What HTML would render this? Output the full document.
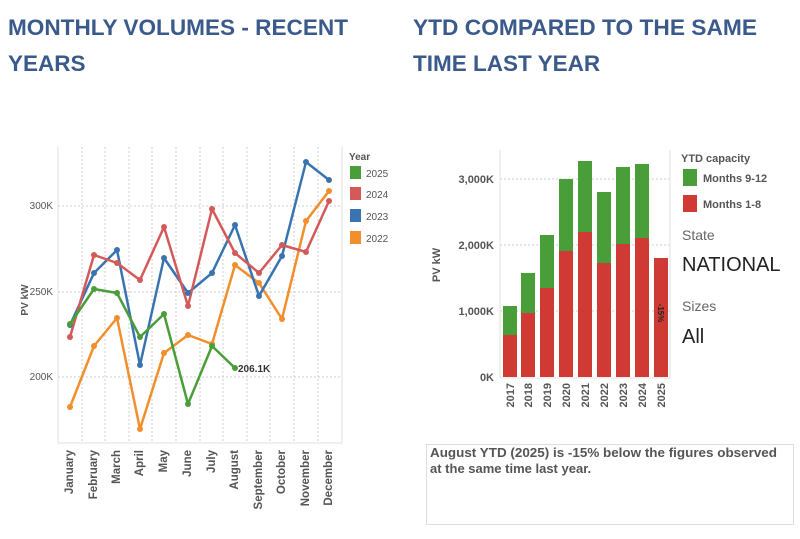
<!DOCTYPE html>
<html><head><meta charset="utf-8"><style>
body{margin:0;background:#fff;}
svg{display:block;font-family:"Liberation Sans",Arial,sans-serif;}
</style></head><body>
<svg width="800" height="539" viewBox="0 0 800 539" xmlns="http://www.w3.org/2000/svg">
<rect width="800" height="539" fill="#fff"/>
<g font-weight="bold" font-size="22.5" fill="#3b5a8c">
<text x="8" y="35" textLength="340" lengthAdjust="spacingAndGlyphs">MONTHLY VOLUMES - RECENT</text>
<text x="8" y="71">YEARS</text>
<text x="413" y="35" textLength="344" lengthAdjust="spacingAndGlyphs">YTD COMPARED TO THE SAME</text>
<text x="413" y="71">TIME LAST YEAR</text>
</g>
<!-- Left chart -->
<g stroke="#ccc" stroke-width="1" stroke-dasharray="2,2" fill="none">
<line x1="82" y1="147" x2="82" y2="443"/><line x1="105" y1="147" x2="105" y2="443"/><line x1="129" y1="147" x2="129" y2="443"/><line x1="152" y1="147" x2="152" y2="443"/><line x1="176" y1="147" x2="176" y2="443"/><line x1="200" y1="147" x2="200" y2="443"/><line x1="223" y1="147" x2="223" y2="443"/><line x1="247" y1="147" x2="247" y2="443"/><line x1="270" y1="147" x2="270" y2="443"/><line x1="294" y1="147" x2="294" y2="443"/><line x1="318" y1="147" x2="318" y2="443"/>
<line x1="58" y1="206" x2="342" y2="206"/><line x1="58" y1="292" x2="342" y2="292"/><line x1="58" y1="377" x2="342" y2="377"/>
</g>
<g stroke="#e2e2e2" fill="none"><line x1="58" y1="147" x2="58" y2="443"/><line x1="342" y1="147" x2="342" y2="443"/><line x1="58" y1="443" x2="342" y2="443"/></g>
<g font-size="10" fill="#555" text-anchor="end"><text x="53" y="209">300K</text><text x="53" y="295">250K</text><text x="53" y="380">200K</text></g>
<text transform="translate(28,300) rotate(-90)" font-size="10" font-weight="bold" fill="#555" text-anchor="middle">PV kW</text>
<g font-size="11.5" font-weight="bold" fill="#555" text-anchor="end">
<text transform="translate(73,450) rotate(-90)">January</text>
<text transform="translate(97,450) rotate(-90)">February</text>
<text transform="translate(120,450) rotate(-90)">March</text>
<text transform="translate(143,450) rotate(-90)">April</text>
<text transform="translate(167,450) rotate(-90)">May</text>
<text transform="translate(191,450) rotate(-90)">June</text>
<text transform="translate(215,450) rotate(-90)">July</text>
<text transform="translate(238,450) rotate(-90)">August</text>
<text transform="translate(262,450) rotate(-90)">September</text>
<text transform="translate(285,450) rotate(-90)">October</text>
<text transform="translate(309,450) rotate(-90)">November</text>
<text transform="translate(332,450) rotate(-90)">December</text>
</g>
<g fill="none" stroke-width="2.5" stroke-linejoin="round">
<polyline stroke="#f28e2b" points="70,407 94,346 117,318 140,429 164,353 188,335 212,344 235,265 259,283 282,319 306,221 329,191"/>
<polyline stroke="#3a74b0" points="70,325 94,273 117,250 140,365 164,258 188,293 212,273 235,225 259,296 282,256 306,162 329,180"/>
<polyline stroke="#d45a5a" points="70,337 94,255 117,263 140,280 164,227 188,306 212,209 235,253 259,273 282,245 306,252 329,201"/>
<polyline stroke="#4a9e3a" points="70,324 94,289 117,293 140,337 164,314 188,404 212,346 235,368"/>
</g>
<g fill="#f28e2b"><circle cx="70" cy="407" r="3"/><circle cx="94" cy="346" r="3"/><circle cx="117" cy="318" r="3"/><circle cx="140" cy="429" r="3"/><circle cx="164" cy="353" r="3"/><circle cx="188" cy="335" r="3"/><circle cx="212" cy="344" r="3"/><circle cx="235" cy="265" r="3"/><circle cx="259" cy="283" r="3"/><circle cx="282" cy="319" r="3"/><circle cx="306" cy="221" r="3"/><circle cx="329" cy="191" r="3"/></g>
<g fill="#3a74b0"><circle cx="70" cy="325" r="3"/><circle cx="94" cy="273" r="3"/><circle cx="117" cy="250" r="3"/><circle cx="140" cy="365" r="3"/><circle cx="164" cy="258" r="3"/><circle cx="188" cy="293" r="3"/><circle cx="212" cy="273" r="3"/><circle cx="235" cy="225" r="3"/><circle cx="259" cy="296" r="3"/><circle cx="282" cy="256" r="3"/><circle cx="306" cy="162" r="3"/><circle cx="329" cy="180" r="3"/></g>
<g fill="#d45a5a"><circle cx="70" cy="337" r="3"/><circle cx="94" cy="255" r="3"/><circle cx="117" cy="263" r="3"/><circle cx="140" cy="280" r="3"/><circle cx="164" cy="227" r="3"/><circle cx="188" cy="306" r="3"/><circle cx="212" cy="209" r="3"/><circle cx="235" cy="253" r="3"/><circle cx="259" cy="273" r="3"/><circle cx="282" cy="245" r="3"/><circle cx="306" cy="252" r="3"/><circle cx="329" cy="201" r="3"/></g>
<g fill="#4a9e3a"><circle cx="70" cy="324" r="3"/><circle cx="94" cy="289" r="3"/><circle cx="117" cy="293" r="3"/><circle cx="140" cy="337" r="3"/><circle cx="164" cy="314" r="3"/><circle cx="188" cy="404" r="3"/><circle cx="212" cy="346" r="3"/><circle cx="235" cy="368" r="3"/></g>
<text x="238" y="372" font-size="10" font-weight="bold" fill="#333">206.1K</text>
<text x="349" y="160" font-size="10" font-weight="bold" fill="#555">Year</text>
<rect x="350" y="166" width="11" height="13" fill="#4a9e3a"/><text x="366" y="177" font-size="10" fill="#555">2025</text>
<rect x="350" y="187" width="11" height="13" fill="#d45a5a"/><text x="366" y="198" font-size="10" fill="#555">2024</text>
<rect x="350" y="209" width="11" height="13" fill="#3a74b0"/><text x="366" y="220" font-size="10" fill="#555">2023</text>
<rect x="350" y="231" width="11" height="13" fill="#f28e2b"/><text x="366" y="242" font-size="10" fill="#555">2022</text>
<!-- Right chart -->
<g stroke="#ccc" stroke-dasharray="2,2"><line x1="500" y1="179" x2="670" y2="179"/><line x1="500" y1="245" x2="670" y2="245"/><line x1="500" y1="311" x2="670" y2="311"/></g>
<g stroke="#e2e2e2" fill="none"><line x1="500" y1="150" x2="500" y2="378"/><line x1="670" y1="150" x2="670" y2="378"/><line x1="500" y1="378" x2="670" y2="378"/></g>
<g font-size="11" font-weight="bold" fill="#555" text-anchor="end"><text x="494" y="183">3,000K</text><text x="494" y="249">2,000K</text><text x="494" y="315">1,000K</text><text x="494" y="381">0K</text></g>
<text transform="translate(440,265) rotate(-90)" font-size="11" font-weight="bold" fill="#555" text-anchor="middle">PV kW</text>
<g fill="#4a9e3a">
<rect x="503" y="306" width="14" height="29"/><rect x="521" y="273" width="14" height="40"/><rect x="540" y="235" width="14" height="53"/><rect x="559" y="179" width="14" height="72"/><rect x="578" y="161" width="14" height="71"/><rect x="597" y="192" width="14" height="71"/><rect x="616" y="167" width="14" height="77"/><rect x="635" y="164" width="14" height="74"/>
</g>
<g fill="#d03a35">
<rect x="503" y="335" width="14" height="42"/><rect x="521" y="313" width="14" height="64"/><rect x="540" y="288" width="14" height="89"/><rect x="559" y="251" width="14" height="126"/><rect x="578" y="232" width="14" height="145"/><rect x="597" y="263" width="14" height="114"/><rect x="616" y="244" width="14" height="133"/><rect x="635" y="238" width="14" height="139"/><rect x="654" y="258" width="14" height="119"/>
</g>
<text transform="translate(658,313) rotate(90)" font-size="8" font-weight="bold" fill="#222" text-anchor="middle">-15%</text>
<g font-size="11" font-weight="bold" fill="#555" text-anchor="end">
<text transform="translate(514,383) rotate(-90)">2017</text><text transform="translate(532,383) rotate(-90)">2018</text><text transform="translate(551,383) rotate(-90)">2019</text><text transform="translate(570,383) rotate(-90)">2020</text><text transform="translate(589,383) rotate(-90)">2021</text><text transform="translate(608,383) rotate(-90)">2022</text><text transform="translate(627,383) rotate(-90)">2023</text><text transform="translate(646,383) rotate(-90)">2024</text><text transform="translate(665,383) rotate(-90)">2025</text>
</g>
<text x="681" y="162" font-size="11" font-weight="bold" fill="#555">YTD capacity</text>
<rect x="683" y="169" width="14" height="17" fill="#4a9e3a"/><text x="703" y="182" font-size="11" font-weight="bold" fill="#555">Months 9-12</text>
<rect x="683" y="195" width="14" height="17" fill="#d03a35"/><text x="703" y="208" font-size="11" font-weight="bold" fill="#555">Months 1-8</text>
<text x="682" y="240" font-size="14" fill="#666">State</text>
<text x="682" y="271" font-size="20" fill="#222">NATIONAL</text>
<text x="682" y="311" font-size="14" fill="#666">Sizes</text>
<text x="682" y="343" font-size="20" fill="#222">All</text>
<rect x="426.5" y="444.5" width="367" height="80" fill="#fff" stroke="#ddd"/>
<text x="430" y="457" font-size="13" font-weight="bold" fill="#555" textLength="347" lengthAdjust="spacingAndGlyphs">August YTD (2025) is -15% below the figures observed</text>
<text x="430" y="473" font-size="13" font-weight="bold" fill="#555">at the same time last year.</text>
</svg>
</body></html>
